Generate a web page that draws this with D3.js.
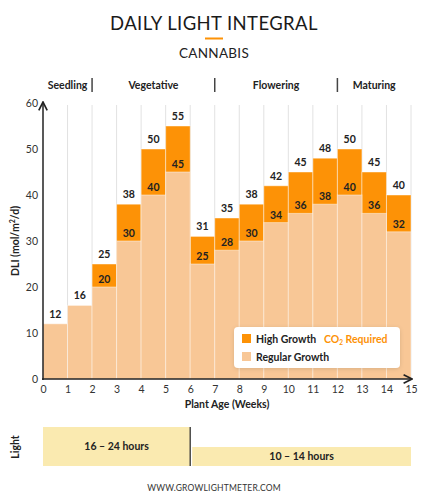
<!DOCTYPE html>
<html><head><meta charset="utf-8">
<script src="https://cdn.jsdelivr.net/npm/d3@7"></script>
<style>
html,body{margin:0;padding:0;background:#fff;}
svg{display:block;}
text{font-family:Lato,"Open Sans",sans-serif;}
</style></head>
<body>
<svg id="c" width="428" height="500"></svg>
<script>
// ---- data ----
const weeks = [0,1,2,3,4,5,6,7,8,9,10,11,12,13,14];
const regular = [12,16,20,30,40,45,25,28,30,34,36,38,40,36,32];
const high    = [null,null,25,38,50,55,31,35,38,42,45,48,50,45,40];
const yTicks = [0,10,20,30,40,50,60];
const xTicks = [0,1,2,3,4,5,6,7,8,9,10,11,12,13,14,15];
const phases = ["Seedling","Vegetative","Flowering","Maturing"];
const phaseStart = [0,2,7,12];
const phaseEnd   = [2,7,12,15];
const lightLabels = ["16 – 24 hours","10 – 14 hours"];
const lightStart = [0,6];
const lightEnd = [6,15];

const colHigh = "#fd9206", colReg = "#f8c796", colLight = "#faeab0", ink = "#222";
const svg = d3.select("#c");
const x = d3.scaleLinear().domain([0,15]).range([43,411]);
const y = d3.scaleLinear().domain([0,60]).range([379,103]);

// title
svg.append("text").attr("x",214).attr("y",30).attr("text-anchor","middle")
  .attr("font-size",18.5).attr("font-weight",400).attr("fill","#1a1a1a").attr("letter-spacing",0.4).text("DAILY LIGHT INTEGRAL");
svg.append("rect").attr("x",205).attr("y",37.5).attr("width",18).attr("height",2).attr("fill",colHigh);
svg.append("text").attr("x",214).attr("y",58).attr("text-anchor","middle")
  .attr("font-size",13.5).attr("fill","#222").attr("letter-spacing",0.3).text("CANNABIS");

// phases
phases.forEach((p,i)=>{
  svg.append("text").attr("x",x((phaseStart[i]+phaseEnd[i])/2)).attr("y",89)
    .attr("text-anchor","middle").attr("font-size",10.5).attr("font-weight",700).attr("fill",ink).text(p);
  if(i>0) svg.append("line").attr("x1",x(phaseStart[i])).attr("x2",x(phaseStart[i]))
    .attr("y1",78).attr("y2",92).attr("stroke","#444").attr("stroke-width",1.5);
});

// grid
svg.append("g").selectAll("line").data(xTicks.slice(1)).join("line")
  .attr("x1",d=>x(d)).attr("x2",d=>x(d)).attr("y1",y(60)+2).attr("y2",y(0))
  .attr("stroke","#e2e2e2").attr("stroke-width",1);

// bars
const bw = x(1)-x(0);
svg.append("g").selectAll("rect").data(weeks.filter((d,i)=>high[i]!=null)).join("rect")
  .attr("x",d=>x(d)).attr("width",bw).attr("y",d=>y(high[d])).attr("height",d=>y(0)-y(high[d]))
  .attr("fill",colHigh).attr("stroke","rgba(255,255,255,0.45)").attr("stroke-width",1);
svg.append("g").selectAll("rect").data(weeks).join("rect")
  .attr("x",d=>x(d)).attr("width",bw).attr("y",d=>y(regular[d])).attr("height",d=>y(0)-y(regular[d]))
  .attr("fill",colReg).attr("stroke","rgba(255,255,255,0.45)").attr("stroke-width",1);

// value labels
weeks.forEach(d=>{
  const cx = x(d)+bw/2;
  if(high[d]!=null){
    svg.append("text").attr("x",cx).attr("y",y(high[d])-6).attr("text-anchor","middle")
      .attr("font-size",10.5).attr("font-weight",700).attr("fill",ink).text(high[d]);
    svg.append("text").attr("x",cx).attr("y",y(regular[d])-4).attr("text-anchor","middle")
      .attr("font-size",10.5).attr("font-weight",700).attr("fill",ink).text(regular[d]);
  } else {
    svg.append("text").attr("x",cx).attr("y",y(regular[d])-6).attr("text-anchor","middle")
      .attr("font-size",10.5).attr("font-weight",700).attr("fill",ink).text(regular[d]);
  }
});

// axes
const defs = svg.append("defs");
defs.append("marker").attr("id","arr").attr("viewBox","0 0 10 10").attr("refX",9).attr("refY",5)
  .attr("markerWidth",7).attr("markerHeight",7).attr("orient","auto")
  .append("path").attr("d","M1,1 L9,5 L1,9").attr("fill","none").attr("stroke",ink).attr("stroke-width",1.6);
svg.append("line").attr("x1",x(0)).attr("x2",x(0)).attr("y1",y(0)+1).attr("y2",y(60)-1)
  .attr("stroke",ink).attr("stroke-width",1.5).attr("marker-end","url(#arr)");
svg.append("line").attr("x1",x(0)-1).attr("x2",x(15)+1).attr("y1",y(0)).attr("y2",y(0))
  .attr("stroke",ink).attr("stroke-width",1.5).attr("marker-end","url(#arr)");

const ya = svg.append("g").attr("transform",`translate(${x(0)-5},0)`)
  .call(d3.axisLeft(y).tickValues(yTicks).tickSize(0).tickPadding(0));
ya.select(".domain").remove();
ya.selectAll("text").attr("font-family","Lato,sans-serif").attr("font-size",10.5).attr("fill","#333");

const xa = svg.append("g").attr("transform",`translate(0,${y(0)+3})`)
  .call(d3.axisBottom(x).tickValues(xTicks).tickSize(0).tickPadding(4).tickFormat(d3.format("d")));
xa.select(".domain").remove();
xa.selectAll("text").attr("font-family","Lato,sans-serif").attr("font-size",10.5).attr("fill","#333");

svg.append("text").attr("x",(x(0)+x(15))/2).attr("y",408).attr("text-anchor","middle")
  .attr("font-size",10.5).attr("font-weight",700).attr("fill",ink).text("Plant Age (Weeks)");
svg.append("text").attr("transform",`translate(19,${(y(0)+y(60))/2}) rotate(-90)`).attr("text-anchor","middle")
  .attr("font-size",10.5).attr("font-weight",700).attr("fill",ink)
  .html('DLI (mol/m<tspan font-size="7" dy="-4">2</tspan><tspan dy="4">/d)</tspan>');

// legend
const filt = defs.append("filter").attr("id","sh").attr("x","-20%").attr("y","-30%").attr("width","140%").attr("height","160%");
filt.append("feDropShadow").attr("dx",0).attr("dy",1).attr("stdDeviation",2).attr("flood-color","#000").attr("flood-opacity",0.12);
const lg = svg.append("g");
lg.append("rect").attr("x",234).attr("y",327).attr("width",166).attr("height",41).attr("rx",4)
  .attr("fill","#fff").attr("filter","url(#sh)");
lg.append("rect").attr("x",242).attr("y",334).attr("width",9).attr("height",9).attr("fill",colHigh);
lg.append("rect").attr("x",242).attr("y",352).attr("width",9).attr("height",9).attr("fill",colReg);
lg.append("text").attr("x",256).attr("y",342.5).attr("font-size",10.5).attr("font-weight",700).attr("fill",ink).text("High Growth");
lg.append("text").attr("x",324).attr("y",342.5).attr("font-size",10.5).attr("font-weight",700).attr("fill",colHigh)
  .html('CO<tspan font-size="6.5" dy="2">2</tspan><tspan dy="-2"> Required</tspan>');
lg.append("text").attr("x",256).attr("y",360.5).attr("font-size",10.5).attr("font-weight",700).attr("fill",ink).text("Regular Growth");

// light panel
svg.append("text").attr("transform","translate(19,447) rotate(-90)").attr("text-anchor","middle")
  .attr("font-size",10.5).attr("font-weight",700).attr("fill",ink).text("Light");
const ly0 = [427,447];
lightLabels.forEach((t,i)=>{
  const x0 = x(lightStart[i]) + (i>0?2:0), x1 = x(lightEnd[i]);
  svg.append("rect").attr("x",x0).attr("y",ly0[i]).attr("width",x1-x0).attr("height",466-ly0[i]).attr("fill",colLight);
  svg.append("text").attr("x",(x0+x1)/2).attr("y",(ly0[i]+466)/2+3.5).attr("text-anchor","middle")
    .attr("font-size",10.5).attr("font-weight",700).attr("fill",ink).text(t);
});
svg.append("line").attr("x1",x(6)).attr("x2",x(6)).attr("y1",427).attr("y2",466).attr("stroke","#333").attr("stroke-width",1.3);

svg.append("text").attr("x",214).attr("y",491).attr("text-anchor","middle").attr("font-size",8.5)
  .attr("fill","#333").attr("letter-spacing",0.2).text("WWW.GROWLIGHTMETER.COM");
</script>
</body></html>
